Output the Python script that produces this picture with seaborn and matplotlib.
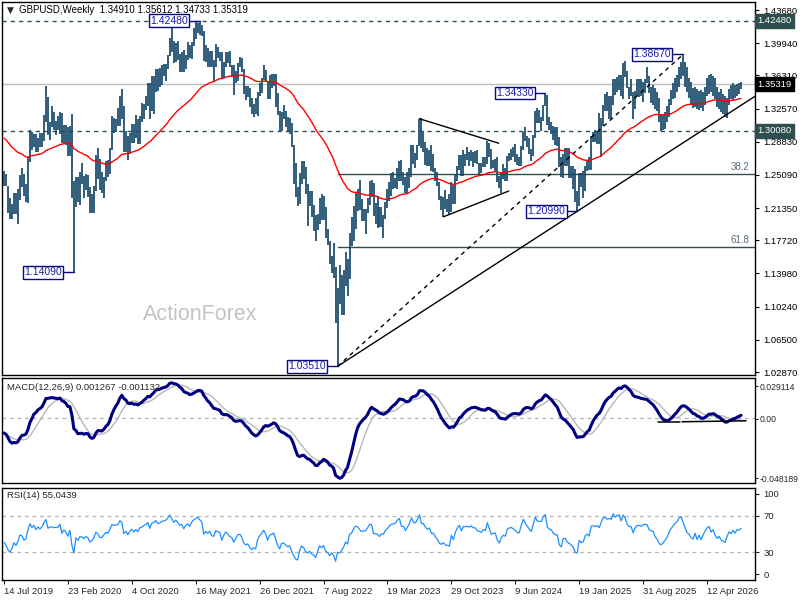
import numpy as np
import pandas as pd
import matplotlib
matplotlib.use("Agg")
import matplotlib.pyplot as plt
import matplotlib.transforms as mtransforms
import seaborn as sns

# ---------------- data (weekly GBPUSD bars) ----------------
high = [
 1.2558,1.2520,1.2380,1.2250,1.2180,1.2310,1.2310,1.2345,1.2505,1.2583,
 1.2515,1.2410,1.2710,1.3013,1.2990,1.2975,1.2975,1.2930,1.2985,1.2985,
 1.3180,1.3514,1.3385,1.3110,1.3285,1.3215,1.3120,1.3175,1.3215,1.3210,
 1.3070,1.3070,1.3050,1.3055,1.3200,1.2440,1.2485,1.2485,1.2545,1.2647,
 1.2500,1.2515,1.2510,1.2375,1.2295,1.2380,1.2730,1.2813,1.2690,1.2540,
 1.2480,1.2670,1.2680,1.2815,1.3170,1.3145,1.3140,1.3265,1.3395,1.3482,
 1.3285,1.3005,1.2950,1.2985,1.3085,1.3080,1.3180,1.3140,1.3175,1.3315,
 1.3310,1.3400,1.3540,1.3545,1.3625,1.3625,1.3703,1.3705,1.3710,1.3745,
 1.3760,1.3760,1.3865,1.4050,1.4240,1.4020,1.4000,1.4015,1.3870,1.3890,
 1.3920,1.3865,1.4010,1.3975,1.4005,1.4165,1.4235,1.4220,1.4248,1.4200,
 1.4135,1.3975,1.3935,1.3910,1.3910,1.3800,1.3985,1.3955,1.3890,1.3890,
 1.3780,1.3890,1.3890,1.3910,1.3750,1.3750,1.3675,1.3775,1.3835,1.3830,
 1.3700,1.3515,1.3515,1.3485,1.3375,1.3305,1.3375,1.3440,1.3545,1.3600,
 1.3749,1.3690,1.3555,1.3630,1.3645,1.3645,1.3645,1.3435,1.3235,1.3215,
 1.3298,1.3235,1.3165,1.3145,1.3095,1.2850,1.2640,1.2370,1.2525,1.2665,
 1.2665,1.2600,1.2405,1.2325,1.2330,1.2165,1.2060,1.2065,1.2245,1.2293,
 1.2275,1.2145,1.1900,1.1760,1.1590,1.1740,1.1475,1.1235,1.1495,1.1380,
 1.1440,1.1645,1.1565,1.1855,1.2030,1.2155,1.2310,1.2345,1.2446,1.2240,
 1.2125,1.2125,1.2245,1.2435,1.2448,1.2420,1.2195,1.2270,1.2145,1.2145,
 1.2055,1.2205,1.2345,1.2425,1.2525,1.2545,1.2475,1.2585,1.2665,1.2680,
 1.2545,1.2480,1.2545,1.2590,1.2850,1.2848,1.2760,1.2850,1.3142,1.3145,
 1.3000,1.2885,1.2815,1.2795,1.2845,1.2745,1.2585,1.2545,1.2425,1.2270,
 1.2265,1.2335,1.2235,1.2290,1.2430,1.2390,1.2505,1.2610,1.2735,1.2730,
 1.2795,1.2750,1.2827,1.2770,1.2785,1.2770,1.2775,1.2785,1.2645,1.2645,
 1.2710,1.2710,1.2893,1.2870,1.2805,1.2675,1.2685,1.2710,1.2500,1.2530,
 1.2635,1.2590,1.2720,1.2760,1.2800,1.2818,1.2860,1.2745,1.2710,1.2840,
 1.2995,1.3044,1.2945,1.2920,1.2800,1.2955,1.3230,1.3265,1.3240,1.3160,
 1.3300,1.3434,1.3410,1.3160,1.3105,1.3060,1.3045,1.3045,1.2940,1.2715,
 1.2750,1.2810,1.2810,1.2810,1.2605,1.2605,1.2575,1.2325,1.2525,1.2525,
 1.2550,1.2605,1.2680,1.2715,1.2945,1.2990,1.3015,1.2995,1.3208,1.3150,
 1.3300,1.3425,1.3445,1.3400,1.3400,1.3595,1.3595,1.3615,1.3630,1.3640,
 1.3770,1.3789,1.3680,1.3500,1.3590,1.3440,1.3450,1.3595,1.3595,1.3595,
 1.3560,1.3590,1.3726,1.3620,1.3495,1.3520,1.3490,1.3440,1.3380,1.3200,
 1.3180,1.3220,1.3290,1.3360,1.3470,1.3540,1.3600,1.3640,1.3720,1.3780,
 1.3867,1.3780,1.3720,1.3600,1.3560,1.3490,1.3500,1.3480,1.3450,1.3470,
 1.3440,1.3500,1.3600,1.3640,1.3650,1.3620,1.3600,1.3500,1.3440,1.3480,
 1.3420,1.3400,1.3380,1.3480,1.3520,1.3540,1.3520,1.3530,1.3540,1.3561,
]
low = [
 1.2381,1.2384,1.2080,1.2015,1.2015,1.2070,1.2070,1.1959,1.2230,1.2375,
 1.2270,1.2205,1.2195,1.2650,1.2790,1.2820,1.2770,1.2770,1.2820,1.2820,
 1.2895,1.3110,1.2960,1.2905,1.3050,1.3013,1.2960,1.3015,1.2970,1.2870,
 1.2870,1.2850,1.2725,1.2725,1.2250,1.1409,1.2150,1.2200,1.2165,1.2405,
 1.2250,1.2340,1.2265,1.2075,1.2075,1.2075,1.2330,1.2460,1.2340,1.2310,
 1.2252,1.2440,1.2480,1.2520,1.2790,1.2980,1.2990,1.3055,1.3060,1.3140,
 1.2762,1.2765,1.2676,1.2745,1.2865,1.2865,1.2920,1.2855,1.2855,1.3105,
 1.3140,1.3245,1.3285,1.3135,1.3225,1.3190,1.3440,1.3455,1.3500,1.3520,
 1.3625,1.3565,1.3700,1.3855,1.3890,1.3775,1.3780,1.3800,1.3670,1.3670,
 1.3670,1.3705,1.3800,1.3825,1.3810,1.3965,1.4040,1.4110,1.4085,1.4075,
 1.3790,1.3785,1.3730,1.3730,1.3730,1.3572,1.3730,1.3830,1.3790,1.3600,
 1.3605,1.3725,1.3765,1.3720,1.3610,1.3410,1.3545,1.3570,1.3720,1.3670,
 1.3425,1.3355,1.3385,1.3280,1.3195,1.3160,1.3195,1.3170,1.3400,1.3430,
 1.3580,1.3560,1.3360,1.3370,1.3485,1.3515,1.3275,1.3185,1.3000,1.3000,
 1.3140,1.3050,1.3005,1.2975,1.2820,1.2410,1.2265,1.2155,1.2185,1.2405,
 1.2460,1.2290,1.1934,1.2160,1.2030,1.1875,1.1760,1.1890,1.1960,1.2005,
 1.2005,1.1800,1.1715,1.1500,1.1405,1.1350,1.0840,1.0351,1.1055,1.0925,
 1.0925,1.1255,1.1145,1.1335,1.1710,1.1765,1.1900,1.2105,1.2110,1.1990,
 1.1990,1.1841,1.2080,1.2170,1.2265,1.2050,1.1960,1.1915,1.1925,1.1920,
 1.1803,1.2010,1.2140,1.2220,1.2275,1.2345,1.2365,1.2355,1.2445,1.2440,
 1.2390,1.2310,1.2310,1.2365,1.2480,1.2630,1.2590,1.2675,1.2830,1.2815,
 1.2770,1.2620,1.2615,1.2615,1.2550,1.2545,1.2445,1.2380,1.2230,1.2110,
 1.2037,1.2120,1.2090,1.2070,1.2095,1.2185,1.2185,1.2445,1.2560,1.2500,
 1.2500,1.2610,1.2680,1.2610,1.2670,1.2595,1.2645,1.2630,1.2520,1.2535,
 1.2595,1.2600,1.2630,1.2715,1.2575,1.2590,1.2540,1.2425,1.2365,1.2300,
 1.2465,1.2445,1.2445,1.2670,1.2680,1.2715,1.2655,1.2620,1.2615,1.2610,
 1.2790,1.2890,1.2825,1.2750,1.2665,1.2725,1.2925,1.3090,1.3090,1.3000,
 1.3120,1.3290,1.3070,1.3010,1.2975,1.2905,1.2845,1.2835,1.2595,1.2487,
 1.2475,1.2605,1.2610,1.2475,1.2475,1.2350,1.2200,1.2099,1.2160,1.2375,
 1.2250,1.2330,1.2555,1.2560,1.2560,1.2875,1.2885,1.2860,1.2860,1.2710,
 1.3055,1.3235,1.3235,1.3140,1.3140,1.3295,1.3415,1.3445,1.3470,1.3400,
 1.3370,1.3610,1.3490,1.3365,1.3395,1.3142,1.3255,1.3400,1.3390,1.3400,
 1.3335,1.3430,1.3540,1.3430,1.3320,1.3300,1.3250,1.3230,1.3110,1.3008,
 1.3020,1.3030,1.3100,1.3160,1.3300,1.3360,1.3380,1.3440,1.3500,1.3590,
 1.3620,1.3500,1.3440,1.3380,1.3300,1.3260,1.3270,1.3250,1.3240,1.3260,
 1.3230,1.3300,1.3400,1.3420,1.3440,1.3400,1.3360,1.3280,1.3250,1.3220,
 1.3190,1.3160,1.3146,1.3300,1.3360,1.3340,1.3380,1.3400,1.3420,1.3473,
]
close = [
 1.2497,1.2380,1.2165,1.2025,1.2125,1.2285,1.2160,1.2290,1.2500,1.2460,
 1.2290,1.2330,1.2670,1.2970,1.2830,1.2940,1.2780,1.2910,1.2840,1.2930,
 1.3150,1.3330,1.3015,1.3080,1.3085,1.3060,1.3070,1.3075,1.3200,1.2910,
 1.3050,1.2960,1.2815,1.3045,1.2280,1.1620,1.2465,1.2265,1.2505,1.2490,
 1.2365,1.2490,1.2405,1.2105,1.2170,1.2345,1.2665,1.2565,1.2345,1.2335,
 1.2485,1.2620,1.2565,1.2790,1.3090,1.3055,1.3085,1.3085,1.3350,1.3280,
 1.2795,1.2920,1.2750,1.2940,1.3040,1.2910,1.3045,1.2945,1.3155,1.3190,
 1.3285,1.3320,1.3440,1.3230,1.3515,1.3550,1.3670,1.3565,1.3590,1.3690,
 1.3700,1.3740,1.3850,1.4015,1.3920,1.3830,1.3925,1.3870,1.3790,1.3830,
 1.3710,1.3840,1.3890,1.3830,1.3995,1.4090,1.4150,1.4210,1.4155,1.4110,
 1.3790,1.3885,1.3825,1.3890,1.3760,1.3740,1.3905,1.3875,1.3865,1.3625,
 1.3760,1.3865,1.3815,1.3725,1.3705,1.3550,1.3640,1.3745,1.3760,1.3680,
 1.3500,1.3420,1.3445,1.3320,1.3230,1.3265,1.3235,1.3430,1.3530,1.3590,
 1.3675,1.3580,1.3395,1.3525,1.3555,1.3590,1.3410,1.3195,1.3030,1.3175,
 1.3180,1.3115,1.3035,1.3060,1.2830,1.2575,1.2335,1.2255,1.2485,1.2625,
 1.2545,1.2315,1.2225,1.2270,1.2095,1.2030,1.1860,1.2010,1.2180,1.2075,
 1.2140,1.1835,1.1730,1.1510,1.1585,1.1410,1.0855,1.1160,1.1090,1.1175,
 1.1300,1.1500,1.1380,1.1830,1.1890,1.2115,1.2285,1.2265,1.2145,1.2050,
 1.2095,1.2085,1.2225,1.2395,1.2395,1.2050,1.2055,1.2030,1.1945,1.2040,
 1.2030,1.2175,1.2235,1.2335,1.2405,1.2415,1.2445,1.2570,1.2630,1.2445,
 1.2445,1.2345,1.2450,1.2575,1.2820,1.2715,1.2695,1.2840,1.3090,1.2855,
 1.2850,1.2750,1.2690,1.2735,1.2575,1.2585,1.2465,1.2380,1.2240,1.2205,
 1.2240,1.2160,1.2150,1.2125,1.2375,1.2240,1.2460,1.2600,1.2710,1.2545,
 1.2720,1.2705,1.2730,1.2705,1.2750,1.2700,1.2705,1.2635,1.2625,1.2600,
 1.2670,1.2650,1.2860,1.2735,1.2600,1.2625,1.2630,1.2450,1.2370,1.2490,
 1.2545,1.2520,1.2700,1.2735,1.2745,1.2720,1.2685,1.2645,1.2645,1.2815,
 1.2990,1.2920,1.2860,1.2800,1.2755,1.2945,1.3215,1.3125,1.3125,1.3120,
 1.3315,1.3395,1.3125,1.3065,1.3050,1.2960,1.2915,1.2915,1.2615,1.2530,
 1.2735,1.2745,1.2620,1.2570,1.2515,1.2425,1.2205,1.2170,1.2480,1.2395,
 1.2410,1.2585,1.2635,1.2575,1.2915,1.2935,1.2915,1.2940,1.2895,1.3085,
 1.3290,1.3310,1.3270,1.3300,1.3280,1.3535,1.3460,1.3570,1.3570,1.3450,
 1.3715,1.3650,1.3500,1.3440,1.3435,1.3275,1.3445,1.3525,1.3525,1.3505,
 1.3555,1.3570,1.3560,1.3460,1.3440,1.3430,1.3310,1.3255,1.3140,1.3110,
 1.3140,1.3190,1.3240,1.3340,1.3420,1.3480,1.3560,1.3590,1.3700,1.3740,
 1.3650,1.3560,1.3470,1.3430,1.3360,1.3330,1.3440,1.3300,1.3390,1.3280,
 1.3380,1.3480,1.3560,1.3600,1.3480,1.3540,1.3420,1.3330,1.3380,1.3280,
 1.3250,1.3210,1.3330,1.3440,1.3400,1.3480,1.3420,1.3500,1.3491,1.3532,
]

date_labels = ["14 Jul 2019", "23 Feb 2020", "4 Oct 2020", "16 May 2021", "26 Dec 2021",
               "7 Aug 2022", "19 Mar 2023", "29 Oct 2023", "9 Jun 2024", "19 Jan 2025",
               "31 Aug 2025", "12 Apr 2026"]
date_label_bars = [0, 32, 64, 96, 128, 160, 192, 224, 256, 288, 320, 352]

price_ticks = [1.43680, 1.39940, 1.36310, 1.32570, 1.28830, 1.25090, 1.21350,
               1.17720, 1.13980, 1.10240, 1.06500, 1.02870]
level_1 = 1.42480
level_2 = 1.30080
last_price = 1.35319

# swing points labelled on the chart: (bar index, price)
pivot_bars = [98, 35, 167, 271, 287, 340]
pivot_prices = [1.42480, 1.14090, 1.03510, 1.34330, 1.20990, 1.38670]

# fibonacci retracement of 1.0351 -> 1.3867
fib_low_bar, fib_low = 167, 1.03510
fib_high = 1.38670
fib_ratios = [0.382, 0.618]

# trendline anchors
trend_bars = [167, 287]
trend_prices = [1.03510, 1.20990]
channel_bars = [167, 340]
channel_prices = [1.03510, 1.38670]
tri_upper_bars = [208, 247.7]
tri_upper_prices = [1.3142, 1.2866]
tri_lower_bars = [220, 252.7]
tri_lower_prices = [1.2037, 1.2327]
macd_seg_bars = [[327.5, 338.5], [339.5, 371.5]]
macd_seg_vals = [[-0.0036, -0.0036], [-0.0031, -0.0024]]

# indicator state at the first bar
ema55_start = 1.294
ema12_start = 1.2640
ema26_start = 1.2750
rsi_gain_start = 0.0045
rsi_loss_start = 0.0065

title = "GBPUSD,Weekly  1.34910 1.35612 1.34733 1.35319"
macd_title = "MACD(12,26,9) 0.001267 -0.001132"
rsi_title = "RSI(14) 55.0439"
macd_labels = ["0.029114", "0.00", "-0.048189"]
rsi_labels = ["100", "70", "30", "0"]

# ---------------- computations ----------------
n = len(close)
idx = np.arange(n)
ema55 = pd.Series([ema55_start] + close).ewm(span=55, adjust=False).mean().iloc[1:].to_numpy()
e12 = pd.Series([ema12_start] + close).ewm(span=12, adjust=False).mean().iloc[1:].to_numpy()
e26 = pd.Series([ema26_start] + close).ewm(span=26, adjust=False).mean().iloc[1:].to_numpy()
macd = e12 - e26
signal = pd.Series(macd).rolling(9, min_periods=1).mean().to_numpy()
d = np.diff(np.array(close))
gains = pd.Series(np.r_[rsi_gain_start, np.clip(d, 0, None)])
losses = pd.Series(np.r_[rsi_loss_start, np.clip(-d, 0, None)])
avg_g = gains.ewm(alpha=1 / 14, adjust=False).mean()
avg_l = losses.ewm(alpha=1 / 14, adjust=False).mean()
rsi = (100 - 100 / (1 + avg_g / avg_l)).to_numpy()

df = pd.DataFrame({"bar": idx, "ema": ema55, "macd": macd, "signal": signal, "rsi": rsi})

# ---------------- figure ----------------
sns.set_style("white")
plt.rcParams["font.family"] = ["Liberation Sans", "DejaVu Sans"]

W, H = 800, 600
fig = plt.figure(figsize=(8, 6), dpi=100)
fig.patch.set_facecolor("white")

def box(x0, y0, x1, y1):
    return [x0 / W, 1 - y1 / H, (x1 - x0) / W, (y1 - y0) / H]

main_top, main_bot = 2, 375
ax1 = fig.add_axes(box(2, main_top, 755, main_bot))
ax2 = fig.add_axes(box(2, 378, 755, 483))
ax3 = fig.add_axes(box(2, 488, 755, 580))

px = 0.0011273  # price per pixel
def price_at(y):
    return 1.4368 - (y - 10) * px

XL = (-1.0, 376.0)
bar_col = "#17496c"
slate = "#2f4f4f"
navy = "#0a0a80"

# ---- main pane ----
ax1.set_xlim(*XL)
ax1.set_ylim(price_at(main_bot), price_at(main_top))
ax1.axhline(last_price, color="#c0c0c0", lw=1, zorder=1)
ax1.axhline(level_1, color=slate, lw=1, ls=(0, (3, 3)), zorder=1)
ax1.axhline(level_2, color=slate, lw=1, ls=(0, (3, 3)), zorder=1)
for r in fib_ratios:
    lv = fib_high - r * (fib_high - fib_low)
    ax1.plot([fib_low_bar, XL[1]], [lv, lv], color=slate, lw=1, zorder=1)
    ax1.text(373, lv + 0.002, f"{r*100:.1f}", color="#5a6e78", fontsize=7,
             ha="right", va="bottom")

ax1.vlines(idx, low, high, color=bar_col, lw=1.25, zorder=3)
sns.lineplot(data=df, x="bar", y="ema", ax=ax1, color="#ff0000", lw=1.0, zorder=4)

# trendlines
slope = (trend_prices[1] - trend_prices[0]) / (trend_bars[1] - trend_bars[0])
ax1.plot([trend_bars[0], XL[1]], [trend_prices[0], trend_prices[0] + slope * (XL[1] - trend_bars[0])],
         color="black", lw=1, zorder=5)
ax1.plot(channel_bars, channel_prices, color="black", lw=1, ls=(0, (3, 3)), zorder=5)
ax1.plot(tri_upper_bars, tri_upper_prices, color="black", lw=1, zorder=5)
ax1.plot(tri_lower_bars, tri_lower_prices, color="black", lw=1, zorder=5)

# pivot labels
for b, p in zip(pivot_bars, pivot_prices):
    ax1.plot([b - 5.5, b], [p, p], color=navy, lw=1, zorder=6)
    ax1.text(b - 6, p, f"{p:.5f}", color="#1c1ca8", fontsize=7.5, ha="right", va="center",
             zorder=7, bbox=dict(boxstyle="square,pad=0.12", fc="white", ec=navy, lw=1))

ax1.yaxis.tick_right()
ax1.set_yticks(price_ticks)
ax1.set_yticklabels([f"{t:.5f}" for t in price_ticks])
ax1.tick_params(axis="y", labelsize=6.8, length=3, width=0.8, pad=3, colors="black", right=True)
ax1.set_xticks([])
ax1.set_xlabel("")
ax1.set_ylabel("")

tr = mtransforms.blended_transform_factory(ax1.transAxes, ax1.transData)
for val, fc in [(level_1, slate), (last_price, "black"), (level_2, slate)]:
    ax1.text(1.003, val, f"{val:.5f}", transform=tr, color="white", fontsize=6.8,
             ha="left", va="center", zorder=10, clip_on=False,
             bbox=dict(boxstyle="square,pad=0.25", fc=fc, ec=fc))

ax1.text(5 / 753, 1 - 8 / 373, "\u25bc", transform=ax1.transAxes, fontsize=6.5,
         ha="left", va="center", family="DejaVu Sans")
ax1.text(17 / 753, 1 - 8 / 373, title, transform=ax1.transAxes, fontsize=7,
         ha="left", va="center", color="black")
fig.text(143 / W, 1 - 315 / H, "ActionForex", fontsize=15.5, color="#c3c3c3",
         ha="left", va="center")

# ---- MACD pane ----
ax2.set_xlim(*XL)
m_lo, m_hi = -0.048189, 0.029114
ax2.set_ylim(m_lo, m_hi)
ax2.axhline(0, color="#b4b4b4", lw=0.9, ls=(0, (3, 3)), zorder=1)
sns.lineplot(data=df, x="bar", y="signal", ax=ax2, color="#b8b8b8", lw=1.0, zorder=2)
sns.lineplot(data=df, x="bar", y="macd", ax=ax2, color="#000080", lw=2.2, zorder=3)
for bs, vs in zip(macd_seg_bars, macd_seg_vals):
    ax2.plot(bs, vs, color="black", lw=1.1, zorder=4)
def macd_at(y):
    return m_hi - (y - 378) / 105 * (m_hi - m_lo)
ax2.yaxis.tick_right()
ax2.set_yticks([macd_at(386), macd_at(419), macd_at(478)])
ax2.set_yticklabels(macd_labels)
ax2.tick_params(axis="y", labelsize=6.2, length=2, width=0.8, pad=1.5, right=True)
ax2.set_xticks([])
ax2.set_xlabel("")
ax2.set_ylabel("")
ax2.text(5 / 753, 1 - 9 / 105, macd_title, transform=ax2.transAxes, fontsize=6.8,
         ha="left", va="center")

# ---- RSI pane ----
ax3.set_xlim(*XL)
ax3.set_ylim(0, 100)
ax3.axhline(70, color="#b4b4b4", lw=0.9, ls=(0, (3, 3)), zorder=1)
ax3.axhline(30, color="#b4b4b4", lw=0.9, ls=(0, (3, 3)), zorder=1)
sns.lineplot(data=df, x="bar", y="rsi", ax=ax3, color="#1e90ff", lw=0.9, zorder=3)
ax3.yaxis.tick_right()
ax3.set_yticks([94, 70, 30, 6])
ax3.set_yticklabels(rsi_labels)
ax3.tick_params(axis="y", labelsize=6.8, length=3, width=0.8, pad=3, right=True)
ax3.set_ylabel("")
ax3.set_xlabel("")
ax3.set_xticks(date_label_bars)
ax3.set_xticklabels(date_labels)
ax3.tick_params(axis="x", labelsize=6.8, length=3, width=0.8, pad=2, bottom=True)
for lab in ax3.get_xticklabels():
    lab.set_horizontalalignment("left")
ax3.text(5 / 753, 1 - 8 / 92, rsi_title, transform=ax3.transAxes, fontsize=6.8,
         ha="left", va="center")

for ax in (ax1, ax2, ax3):
    ax.set_facecolor("white")
    ax.grid(False)
    for s in ax.spines.values():
        s.set_visible(True)
        s.set_color("black")
        s.set_linewidth(1.0)
    leg = ax.get_legend()
    if leg is not None:
        leg.remove()

fig.savefig("out.png", dpi=100, facecolor="white")
